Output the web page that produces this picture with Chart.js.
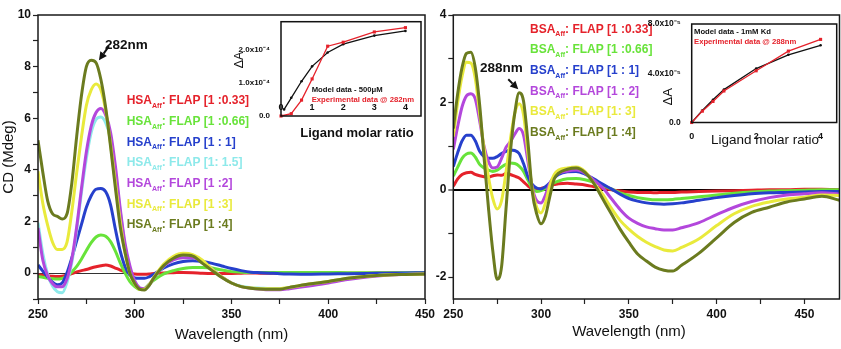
<!DOCTYPE html>
<html>
<head>
<meta charset="utf-8">
<script src="https://cdn.jsdelivr.net/npm/chart.js@4.4.0/dist/chart.umd.min.js"></script>
<style>
  html, body { margin: 0; padding: 0; background: #fff; }
  #wrap { position: relative; width: 841px; height: 349px; overflow: hidden; background: #fff; }
  canvas { position: absolute; }
</style>
</head>
<body>
<div id="wrap">
  <canvas id="hsa" width="445" height="349" style="left:0px;top:0px;width:445px;height:349px"></canvas>
  <canvas id="bsa" width="421" height="349" style="left:420px;top:0px;width:421px;height:349px"></canvas>
  <canvas id="hsaFit" width="225" height="135" style="left:200px;top:10px;width:225px;height:135px"></canvas>
  <canvas id="bsaFit" width="201" height="140" style="left:640px;top:10px;width:201px;height:140px"></canvas>
</div>
<script>
// ---------- HSA titration (CD, mdeg) ----------
const wavelengthsHSA = [250,252.5,255,257.5,260,262.5,265,267.5,270,272.5,275,277.5,280,282.5,285,287.5,290,292.5,295,297.5,300,302.5,305,307.5,310,
  315,320,325,330,335,340,345,350,355,360,365,370,375,380,
  390,400,410,420,430,440,450];
const hsa033 = [-0.07,-0.08,-0.1,-0.12,-0.13,-0.12,-0.08,-0.02,0.05,0.1,0.14,0.2,0.25,0.29,0.32,0.28,0.2,0.12,0.05,0.0,-0.03,-0.04,-0.04,-0.03,-0.01,
  0.01,0.02,0.03,0.02,0.0,-0.01,-0.01,-0.01,0.0,0.01,0.0,0.0,-0.01,0.0,
  0.0,0.01,0.0,0.0,0.01,0.0,0.0];
const hsa066 = [-0.13,-0.16,-0.2,-0.22,-0.23,-0.2,-0.12,0.05,0.26,0.55,0.88,1.18,1.4,1.48,1.43,1.22,0.85,0.4,0.0,-0.33,-0.52,-0.63,-0.6,-0.42,-0.27,
  -0.03,0.1,0.18,0.22,0.22,0.2,0.12,0.06,0.04,0.03,0.03,0.03,0.03,0.03,
  0.03,0.03,0.02,0.02,0.02,0.02,0.02];
const hsa1 = [0.32,0.08,-0.15,-0.35,-0.45,-0.38,0.02,0.6,1.25,1.9,2.55,3.0,3.25,3.28,3.15,2.65,1.7,0.85,0.25,-0.08,-0.18,-0.2,-0.2,-0.14,-0.03,
  0.2,0.36,0.45,0.48,0.45,0.38,0.28,0.18,0.1,0.04,0.02,0.0,-0.02,-0.03,
  -0.04,-0.03,-0.02,-0.01,0.0,0.01,0.02];
const hsa15 = [1.95,0.75,-0.05,-0.5,-0.72,-0.76,-0.35,0.42,1.68,3.15,4.45,5.45,5.95,6.05,5.82,5.2,3.9,2.4,1.03,0.15,-0.37,-0.58,-0.62,-0.47,-0.17,
  0.28,0.55,0.65,0.62,0.45,0.15,-0.15,-0.38,-0.5,-0.56,-0.58,-0.6,-0.6,-0.56,
  -0.45,-0.33,-0.21,-0.12,-0.07,-0.04,-0.03];
const hsa2 = [1.75,0.5,-0.1,-0.4,-0.53,-0.53,-0.22,0.55,1.8,3.3,4.7,5.7,6.22,6.38,6.12,5.45,4.15,2.5,1.15,0.28,-0.3,-0.56,-0.6,-0.45,-0.15,
  0.28,0.52,0.6,0.6,0.45,0.15,-0.15,-0.38,-0.52,-0.58,-0.62,-0.64,-0.64,-0.6,
  -0.5,-0.38,-0.25,-0.15,-0.08,-0.05,-0.03];
const hsa3 = [3.95,2.7,1.85,1.2,0.92,0.92,1.2,2.4,3.9,5.3,6.5,7.1,7.33,7.1,6.3,5.0,3.5,2.0,0.77,0.0,-0.42,-0.63,-0.62,-0.45,-0.15,
  0.35,0.65,0.77,0.72,0.5,0.15,-0.15,-0.38,-0.52,-0.57,-0.6,-0.6,-0.6,-0.55,
  -0.42,-0.32,-0.2,-0.12,-0.07,-0.05,-0.03];
const hsa4 = [5.15,3.9,2.8,2.3,2.2,2.1,2.3,3.5,5.3,6.9,8.0,8.25,8.15,7.5,6.4,4.9,3.3,1.8,0.8,0.0,-0.4,-0.62,-0.65,-0.47,-0.17,
  0.3,0.58,0.7,0.66,0.38,0.1,-0.17,-0.38,-0.52,-0.58,-0.61,-0.62,-0.62,-0.55,
  -0.42,-0.32,-0.2,-0.12,-0.07,-0.05,-0.03];
const hsaRatios = ['[1 :0.33]', '[1 :0.66]', '[1 : 1]', '[1: 1.5]', '[1 :2]', '[1 :3]', '[1 :4]'];

// ---------- BSA titration (CD, mdeg) ----------
const wavelengthsBSA = [250,252.5,255,257.5,260,262.5,265,267.5,270,272.5,275,277.5,280,282.5,285,287.5,290,292.5,295,297.5,300,302.5,305,307.5,310,
  315,320,325,330,335,340,345,350,355,360,365,370,375,380,
  390,400,410,420,430,440,450,460,470];
const bsa033 = [0.08,0.25,0.35,0.39,0.4,0.35,0.32,0.3,0.29,0.32,0.34,0.33,0.37,0.35,0.31,0.27,0.18,0.09,0.02,0.0,0.03,0.06,0.1,0.12,0.14,
  0.15,0.13,0.11,0.07,0.03,0.0,-0.03,-0.05,-0.06,-0.06,-0.07,-0.06,-0.06,-0.05,
  -0.04,-0.03,-0.02,-0.01,0.0,0.0,0.01,0.01,0.0];
const bsa066 = [0.31,0.52,0.72,0.82,0.84,0.75,0.58,0.5,0.45,0.42,0.45,0.52,0.58,0.61,0.6,0.54,0.42,0.22,0.03,-0.04,-0.02,0.03,0.1,0.16,0.2,
  0.25,0.26,0.23,0.17,0.1,0.02,-0.07,-0.13,-0.18,-0.21,-0.23,-0.23,-0.22,-0.2,
  -0.16,-0.12,-0.08,-0.05,-0.03,-0.02,-0.01,0.0,0.0];
const bsa1 = [0.53,0.85,1.12,1.25,1.25,1.12,0.88,0.76,0.72,0.72,0.76,0.83,0.88,0.91,0.9,0.83,0.6,0.3,0.12,0.04,0.02,0.07,0.16,0.27,0.35,
  0.41,0.42,0.36,0.25,0.13,0.02,-0.1,-0.2,-0.26,-0.3,-0.32,-0.33,-0.32,-0.3,
  -0.24,-0.18,-0.13,-0.09,-0.07,-0.06,-0.05,-0.04,-0.04];
const bsa2 = [0.92,1.45,1.9,2.15,2.2,2.08,1.58,1.0,0.65,0.5,0.52,0.72,0.97,1.1,1.27,1.4,1.25,0.65,0.05,-0.25,-0.3,-0.12,0.15,0.3,0.38,
  0.43,0.45,0.38,0.22,0.05,-0.2,-0.45,-0.65,-0.77,-0.85,-0.89,-0.92,-0.92,-0.87,
  -0.75,-0.57,-0.4,-0.27,-0.18,-0.12,-0.09,-0.07,-0.1];
const bsa3 = [1.22,2.0,2.6,2.92,2.9,2.55,1.75,0.95,0.3,-0.2,-0.44,-0.25,0.4,1.15,1.75,1.97,1.72,0.85,0.0,-0.4,-0.53,-0.3,0.1,0.35,0.45,
  0.5,0.52,0.42,0.15,-0.1,-0.42,-0.7,-0.9,-1.07,-1.2,-1.3,-1.38,-1.4,-1.32,
  -1.12,-0.82,-0.55,-0.38,-0.28,-0.21,-0.17,-0.12,-0.13];
const bsa4 = [1.4,2.2,2.8,3.12,3.15,2.8,1.95,0.75,-0.4,-1.4,-2.05,-1.76,-0.45,0.85,1.75,2.22,2.03,1.1,-0.05,-0.55,-0.78,-0.6,-0.15,0.25,0.38,
  0.47,0.5,0.4,0.15,-0.2,-0.55,-0.9,-1.2,-1.47,-1.63,-1.77,-1.84,-1.86,-1.73,
  -1.45,-1.1,-0.75,-0.52,-0.4,-0.28,-0.21,-0.15,-0.24];
const bsaRatios = ['[1 :0.33]', '[1 :0.66]', '[1 : 1]', '[1 : 2]', '[1: 3]', '[1 :4]'];

// ---------- Binding isotherms (ΔA vs ligand molar ratio) ----------
const hsaFitRatioExp = [0, 0.33, 0.66, 1, 1.5, 2, 3, 4];
const hsaFitExp = [0, 0.07e-4, 0.48e-4, 1.12e-4, 2.11e-4, 2.23e-4, 2.54e-4, 2.67e-4];
const hsaFitRatioModel = [0.1, 0.33, 0.66, 1, 1.5, 2, 3, 4];
const hsaFitModel = [0.2e-4, 0.55e-4, 1.05e-4, 1.5e-4, 1.92e-4, 2.17e-4, 2.43e-4, 2.57e-4];

const bsaFitRatio = [0, 0.33, 0.66, 1, 2, 3, 4];
const bsaFitExp = [0, 0.92e-5, 1.71e-5, 2.56e-5, 4.2e-5, 5.8e-5, 6.75e-5];
const bsaFitModel = [0, 0.98e-5, 1.85e-5, 2.67e-5, 4.38e-5, 5.5e-5, 6.27e-5];

// ---------- styling ----------
const FONT = '"Liberation Sans", Arial, Helvetica, sans-serif';
const RED = '#e5222b', GREEN = '#68e33a', BLUE = '#2640cc', CYAN = '#8de9ea',
      PURPLE = '#b347dc', YELLOW = '#e9ea3c', OLIVE = '#6b7b1f';
const hsaColors = [RED, GREEN, BLUE, CYAN, PURPLE, YELLOW, OLIVE];
const bsaColors = [RED, GREEN, BLUE, PURPLE, YELLOW, OLIVE];

// Frame, colored legend with subscripts, annotations and arrows
const decor = {
  id: 'decor',
  afterDraw(chart, args, o) {
    const ctx = chart.ctx, a = chart.chartArea;
    ctx.save();
    if (o.frame) {
      ctx.strokeStyle = o.frame.color;
      ctx.lineWidth = o.frame.width;
      ctx.strokeRect(a.left, a.top, a.right - a.left, a.bottom - a.top);
    }
    if (o.legend) {
      const L = o.legend;
      ctx.textAlign = 'left';
      ctx.textBaseline = 'alphabetic';
      L.labels.forEach((lab, i) => {
        let x = L.x;
        const y = L.y + i * L.dy;
        ctx.fillStyle = L.colors[i];
        ctx.font = `bold ${L.size}px ${FONT}`;
        ctx.fillText(L.head, x, y);
        x += ctx.measureText(L.head).width;
        ctx.font = `bold ${Math.round(L.size * 0.58)}px ${FONT}`;
        ctx.fillText(L.sub, x, y + L.size * 0.3);
        x += ctx.measureText(L.sub).width;
        ctx.font = `bold ${L.size}px ${FONT}`;
        ctx.fillText(': FLAP ' + lab, x, y);
      });
    }
    (o.texts || []).forEach(t => {
      ctx.save();
      ctx.fillStyle = t.color || '#111';
      ctx.font = `${t.weight || 'normal'} ${t.size}px ${FONT}`;
      ctx.textAlign = t.align || 'left';
      ctx.textBaseline = t.baseline || 'alphabetic';
      ctx.translate(t.x, t.y);
      if (t.rotate) ctx.rotate(t.rotate);
      ctx.fillText(t.text, 0, 0);
      ctx.restore();
    });
    (o.arrows || []).forEach(ar => {
      const tx = chart.scales.x.getPixelForValue(ar.at[0]);
      const ty = chart.scales.y.getPixelForValue(ar.at[1]);
      const sx = tx + ar.dx, sy = ty + ar.dy;
      const ang = Math.atan2(ty - sy, tx - sx);
      const head = 8, half = 4;
      const bx = tx - head * Math.cos(ang), by = ty - head * Math.sin(ang);
      ctx.strokeStyle = '#111';
      ctx.fillStyle = '#111';
      ctx.lineWidth = 2;
      ctx.beginPath();
      ctx.moveTo(sx, sy);
      ctx.lineTo(bx, by);
      ctx.stroke();
      ctx.beginPath();
      ctx.moveTo(tx, ty);
      ctx.lineTo(bx + half * Math.sin(ang), by - half * Math.cos(ang));
      ctx.lineTo(bx - half * Math.sin(ang), by + half * Math.cos(ang));
      ctx.closePath();
      ctx.fill();
    });
    ctx.restore();
  }
};

function spectrum(wl, vals, color, order) {
  return {
    data: wl.map((x, i) => ({ x, y: vals[i] })),
    borderColor: color,
    borderWidth: 3,
    pointRadius: 0,
    cubicInterpolationMode: 'monotone',
    fill: false,
    order
  };
}

const tickFont = { family: FONT, size: 12, weight: 'bold' };

function cdChart(id, wl, series, colors, o) {
  return new Chart(document.getElementById(id), {
    type: 'line',
    data: { datasets: series.map((s, i) => spectrum(wl, s, colors[i], series.length - 1 - i)) },
    options: {
      responsive: false,
      animation: false,
      devicePixelRatio: 1,
      layout: { padding: o.padding },
      plugins: { legend: { display: false }, tooltip: { enabled: false }, decor: o.decor },
      scales: {
        x: {
          type: 'linear', min: o.xMin, max: o.xMax,
          ticks: { stepSize: 25, includeBounds: false, autoSkip: false, maxRotation: 0, padding: 3,
                   color: '#111', font: tickFont, callback: v => (v % 50 === 0 ? String(v) : '') },
          grid: { drawOnChartArea: false, drawTicks: true, tickLength: 5, tickColor: '#222', tickWidth: 1.2 },
          border: { display: false },
          title: o.xTitle || { display: false },
          afterFit: s => { s.height = 50; }
        },
        y: {
          type: 'linear', min: o.yMin, max: o.yMax,
          ticks: { stepSize: 1, includeBounds: false, autoSkip: false, padding: 2,
                   color: '#111', font: tickFont, callback: v => (v % 2 === 0 ? String(v) : '') },
          grid: {
            drawOnChartArea: true, drawTicks: true, tickLength: 5, tickColor: '#222', tickWidth: 1.2,
            color: c => (c.tick && c.tick.value === 0 ? o.zeroColor : 'rgba(0,0,0,0)'),
            lineWidth: c => (c.tick && c.tick.value === 0 ? o.zeroWidth : 1)
          },
          border: { display: false },
          title: o.yTitle || { display: false },
          afterFit: s => { s.width = o.yWidth; }
        }
      }
    },
    plugins: [decor]
  });
}

cdChart('hsa', wavelengthsHSA, [hsa033, hsa066, hsa1, hsa15, hsa2, hsa3, hsa4], hsaColors, {
  padding: { top: 15, right: 20, left: 0, bottom: 0 },
  xMin: 250, xMax: 450, yMin: -1, yMax: 10, yWidth: 38,
  zeroColor: '#333', zeroWidth: 1,
  xTitle: { display: true, text: 'Wavelength (nm)', color: '#111', font: { family: FONT, size: 15 }, padding: { top: 0, bottom: 5 } },
  yTitle: { display: true, text: 'CD (Mdeg)', color: '#111', font: { family: FONT, size: 15 }, padding: { top: 0, bottom: 0 } },
  decor: {
    frame: { color: '#1a1a1a', width: 1.5 },
    legend: { x: 126.7, y: 104.3, dy: 20.67, head: 'HSA', sub: 'Aff', labels: hsaRatios, colors: hsaColors, size: 12 },
    texts: [{ text: '282nm', x: 105, y: 48.8, size: 13.5, weight: 'bold' }],
    arrows: [{ at: [281.5, 8.25], dx: 10, dy: -14 }]
  }
});

cdChart('bsa', wavelengthsBSA, [bsa033, bsa066, bsa1, bsa2, bsa3, bsa4], bsaColors, {
  padding: { top: 15, right: 1.5, left: 0, bottom: 0 },
  xMin: 250, xMax: 470, yMin: -2.5, yMax: 4, yWidth: 33.3,
  zeroColor: '#000', zeroWidth: 2,
  decor: {
    frame: { color: '#1a1a1a', width: 1.5 },
    legend: { x: 110, y: 32.6, dy: 20.7, head: 'BSA', sub: 'Aff', labels: bsaRatios, colors: bsaColors, size: 12 },
    texts: [
      { text: '288nm', x: 60, y: 72, size: 13.5, weight: 'bold' },
      { text: 'Wavelength (nm)', x: 209, y: 332, size: 15, align: 'center', baseline: 'middle' }
    ],
    arrows: [{ at: [287, 2.3], dx: -10, dy: -10 }]
  }
});

function fitChart(id, o) {
  return new Chart(document.getElementById(id), {
    type: 'line',
    data: {
      datasets: [
        { data: o.model, borderColor: '#111', backgroundColor: '#111', borderWidth: 1.3,
          pointRadius: 1.3, pointBorderWidth: 0, tension: 0, clip: false, order: 1 },
        { data: o.exp, borderColor: RED, backgroundColor: RED, borderWidth: 1.3,
          pointStyle: 'rect', pointRadius: 2.2, pointBorderWidth: 0, tension: 0, clip: false, order: 0 }
      ]
    },
    options: {
      responsive: false,
      animation: false,
      devicePixelRatio: 1,
      layout: { padding: o.padding },
      plugins: { legend: { display: false }, tooltip: { enabled: false }, decor: o.decor },
      scales: {
        x: {
          type: 'linear', min: 0, max: 4.5,
          ticks: { stepSize: o.xStep, includeBounds: false, autoSkip: false, maxRotation: 0,
                   mirror: o.xMirror, padding: o.xPad, color: '#111',
                   font: { family: FONT, size: 9, weight: 'bold' } },
          grid: { display: false },
          border: { display: false },
          afterFit: s => { s.height = o.xHeight; }
        },
        y: {
          type: 'linear', min: 0, max: o.yMax,
          ticks: { stepSize: o.yStep, includeBounds: false, autoSkip: false, padding: 3, color: '#111',
                   font: { family: FONT, size: o.yFont, weight: 'bold' }, callback: o.yLabel },
          grid: { display: false },
          border: { display: false },
          afterFit: s => { s.width = o.yWidth; }
        }
      }
    },
    plugins: [decor]
  });
}

fitChart('hsaFit', {
  model: hsaFitRatioModel.map((x, i) => ({ x, y: hsaFitModel[i] })),
  exp: hsaFitRatioExp.map((x, i) => ({ x, y: hsaFitExp[i] })),
  padding: { top: 11.7, right: 4, left: 0, bottom: 0 },
  xStep: 1, xMirror: true, xPad: 3, xHeight: 29,
  yMax: 2.85e-4, yStep: 1e-4, yFont: 8, yWidth: 81,
  yLabel: v => (v === 0 ? '0.0' : (v / 1e-4).toFixed(1) + 'x10\u207B\u2074'),
  decor: {
    frame: { color: '#111', width: 1.5 },
    texts: [
      { text: 'Model data - 500\u03BCM', x: 111.7, y: 81.8, size: 7.7, weight: 'bold', color: '#111' },
      { text: 'Experimental data @ 282nm', x: 111.7, y: 92.1, size: 7.7, weight: 'bold', color: RED },
      { text: '\u0394A', x: 40, y: 50, size: 12.5, align: 'center', baseline: 'middle', rotate: -Math.PI / 2 },
      { text: 'Ligand molar ratio', x: 157, y: 123, size: 13, weight: 'bold', align: 'center', baseline: 'middle' }
    ]
  }
});

fitChart('bsaFit', {
  model: bsaFitRatio.map((x, i) => ({ x, y: bsaFitModel[i] })),
  exp: bsaFitRatio.map((x, i) => ({ x, y: bsaFitExp[i] })),
  padding: { top: 14, right: 4.3, left: 0, bottom: 0 },
  xStep: 2, xMirror: false, xPad: 1, xHeight: 27.5,
  yMax: 8e-5, yStep: 4e-5, yFont: 8.5, yWidth: 51.7,
  yLabel: v => (v === 0 ? '0.0' : (v / 1e-5).toFixed(1) + 'x10\u207B\u2075'),
  decor: {
    frame: { color: '#111', width: 1.5 },
    texts: [
      { text: 'Model data - 1mM Kd', x: 54, y: 23.8, size: 7.7, weight: 'bold', color: '#111' },
      { text: 'Experimental data @ 288nm', x: 54, y: 33.8, size: 7.7, weight: 'bold', color: RED },
      { text: '\u0394A', x: 28, y: 86.7, size: 13, align: 'center', baseline: 'middle', rotate: -Math.PI / 2 },
      { text: 'Ligand molar ratio', x: 125, y: 130, size: 13.5, align: 'center', baseline: 'middle' }
    ]
  }
});
</script>
</body>
</html>
